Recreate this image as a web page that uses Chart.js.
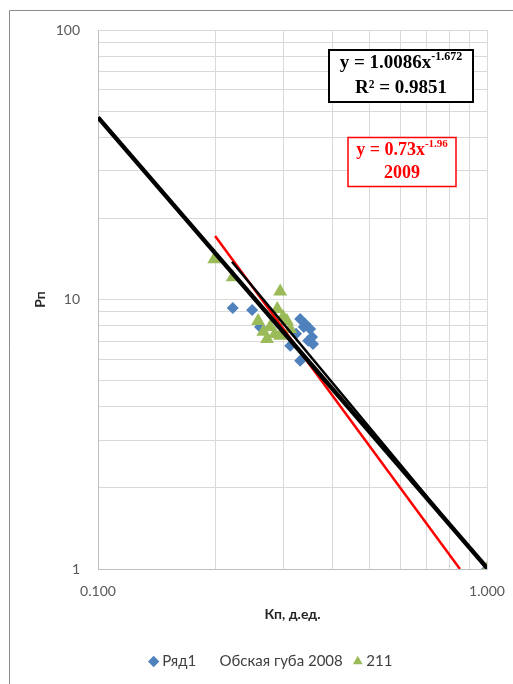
<!DOCTYPE html>
<html lang="ru">
<head>
    <meta charset="UTF-8">
    <title>Рп – Кп</title>
    <script src="https://cdn.jsdelivr.net/npm/chart.js"></script>
    <style>
        * {
            margin: 0;
            padding: 0;
            box-sizing: border-box;
        }

        body {
            background: #ffffff;
        }

        canvas {
            display: block;
        }
    </style>
</head>
<body>
    <canvas id="pnChart" width="513" height="684"></canvas>

    <script>
        // Ряд1 (blue diamonds)
        const seriesKp1 = [0.222, 0.249, 0.261, 0.331, 0.341, 0.351, 0.355, 0.347, 0.357, 0.323, 0.312, 0.331, 0.338, 1.0];
        const seriesPn1 = [9.30, 9.15, 7.91, 8.47, 8.11, 7.78, 7.26, 7.03, 6.84, 7.46, 6.73, 5.93, 7.9, 1.0];

        // 211 (green triangles)
        const seriesKp211 = [0.199, 0.222, 0.294, 0.289, 0.299, 0.306, 0.258, 0.266, 0.277, 0.294, 0.272, 0.285, 0.312, 1.0];
        const seriesPn211 = [14.1, 12.1, 10.7, 9.22, 8.61, 8.33, 8.33, 7.59, 7.91, 7.33, 7.14, 7.45, 7.78, 1.0];

        // trend lines, end points
        const trendKp = [0.1, 1.0];
        const trendPn = [47.4, 1.01];
        const trend2Kp = [0.221, 1.0];
        const trend2Pn = [13.8, 1.0];
        const trend2009Kp = [0.2, 0.852];
        const trend2009Pn = [17.2, 1.0];

        const legendNames = ['Ряд1', 'Обская губа 2008', '211'];

        const xTicks = [0.1, 0.2, 0.3, 0.4, 0.5, 0.6, 0.7, 0.8, 0.9, 1.0];
        const xLabeled = [0.1, 1.0];
        const yTicks = [1, 2, 3, 4, 5, 6, 7, 8, 9, 10, 20, 30, 40, 50, 60, 70, 80, 90, 100];
        const yLabeled = [1, 10, 100];

        const pairs = (xs, ys) => xs.map((x, i) => ({ x: x, y: ys[i] }));

        const frame = {
            id: 'frame',
            afterLayout(chart) {
                // legend in the original sits a bit right of centre
                chart.legend.left += 15;
                chart.legend.right += 15;
            },
            beforeDraw(chart) {
                const ctx = chart.ctx;
                ctx.save();
                ctx.strokeStyle = '#8c8c8c';
                ctx.lineWidth = 1;
                ctx.beginPath();
                ctx.moveTo(9.5, chart.height);
                ctx.lineTo(9.5, 10.5);
                ctx.lineTo(chart.width, 10.5);
                ctx.stroke();
                ctx.restore();
            }
        };

        // equation boxes, anchored in data coordinates
        const boxes = [
            { x: 0.601, y: 67.6, w: 144, h: 52, color: '#000000', border: 2, size: 19,
              lines: [['y = 1.0086x', '-1.672', -13], ['R² = 0.9851', '', 12]] },
            { x: 0.605, y: 32.5, w: 108, h: 49, color: '#ff0000', border: 1.5, size: 18,
              lines: [['y = 0.73x', '-1.96', -12], ['2009', '', 11]] }
        ];

        const equations = {
            id: 'equations',
            afterDraw(chart) {
                const ctx = chart.ctx;
                const sx = chart.scales.x, sy = chart.scales.y;
                boxes.forEach(b => {
                    const cx = Math.round(sx.getPixelForValue(b.x));
                    const cy = Math.round(sy.getPixelForValue(b.y));
                    ctx.save();
                    ctx.fillStyle = '#ffffff';
                    ctx.fillRect(cx - b.w / 2, cy - b.h / 2, b.w, b.h);
                    ctx.strokeStyle = b.color;
                    ctx.lineWidth = b.border;
                    ctx.strokeRect(cx - b.w / 2, cy - b.h / 2, b.w, b.h);
                    ctx.fillStyle = b.color;
                    ctx.textBaseline = 'middle';
                    ctx.textAlign = 'left';
                    b.lines.forEach(([main, sup, dy]) => {
                        const mainFont = 'bold ' + b.size + 'px "Liberation Serif"';
                        const supFont = 'bold ' + Math.round(b.size * 0.62) + 'px "Liberation Serif"';
                        ctx.font = mainFont;
                        const w1 = ctx.measureText(main).width;
                        ctx.font = supFont;
                        const w2 = sup ? ctx.measureText(sup).width : 0;
                        const left = cx - (w1 + w2) / 2;
                        ctx.font = mainFont;
                        ctx.fillText(main, left, cy + dy);
                        if (sup) {
                            ctx.font = supFont;
                            ctx.fillText(sup, left + w1, cy + dy - 6);
                        }
                    });
                    ctx.restore();
                });
            }
        };

        const ctx = document.getElementById('pnChart').getContext('2d');
        new Chart(ctx, {
            type: 'scatter',
            data: {
                datasets: [
                    {
                        label: 'Ряд1',
                        data: pairs(seriesKp1, seriesPn1),
                        pointStyle: 'rectRot',
                        pointRadius: 6,
                        backgroundColor: '#4f81bd',
                        borderColor: '#4f81bd',
                        borderWidth: 0,
                        order: 5
                    },
                    {
                        label: 'Обская губа 2008',
                        data: [],
                        backgroundColor: 'rgba(0,0,0,0)',
                        borderColor: 'rgba(0,0,0,0)',
                        order: 6
                    },
                    {
                        label: '211',
                        data: pairs(seriesKp211, seriesPn211),
                        pointStyle: 'triangle',
                        pointRadius: 8,
                        backgroundColor: '#9bbb59',
                        borderColor: '#9bbb59',
                        borderWidth: 0,
                        order: 4
                    },
                    {
                        label: 'trend 2009',
                        data: pairs(trend2009Kp, trend2009Pn),
                        showLine: true,
                        pointRadius: 0,
                        borderColor: '#ff0000',
                        borderWidth: 2.5,
                        order: 3
                    },
                    {
                        label: 'trend 2',
                        data: pairs(trend2Kp, trend2Pn),
                        showLine: true,
                        pointRadius: 0,
                        borderColor: '#000000',
                        borderWidth: 2.5,
                        order: 2
                    },
                    {
                        label: 'trend',
                        data: pairs(trendKp, trendPn),
                        showLine: true,
                        pointRadius: 0,
                        borderColor: '#000000',
                        borderWidth: 4.5,
                        order: 1
                    }
                ]
            },
            options: {
                responsive: false,
                animation: false,
                layout: {
                    padding: { left: 28, right: 26, top: 30, bottom: 5 }
                },
                plugins: {
                    tooltip: { enabled: false },
                    legend: {
                        position: 'bottom',
                        labels: {
                            usePointStyle: true,
                            boxWidth: 2,
                            boxHeight: 8,
                            padding: 14,
                            color: '#404040',
                            font: { family: 'Lato', size: 15 },
                            filter: item => legendNames.includes(item.text),
                            sort: (a, b) => a.datasetIndex - b.datasetIndex
                        }
                    }
                },
                scales: {
                    x: {
                        type: 'logarithmic',
                        min: 0.1,
                        max: 1,
                        afterBuildTicks: scale => { scale.ticks = xTicks.map(v => ({ value: v })); },
                        afterFit: scale => {
                            scale.height = 71;
                            scale.paddingLeft = 0;
                            scale.paddingRight = 0;
                        },
                        ticks: {
                            autoSkip: false,
                            maxRotation: 0,
                            padding: 14,
                            color: '#595959',
                            font: { family: 'Lato', size: 14 },
                            callback: v => xLabeled.includes(v) ? v.toFixed(3) : ''
                        },
                        grid: { color: '#d9d9d9', drawTicks: false },
                        border: { color: '#bfbfbf' },
                        title: {
                            display: true,
                            text: 'Кп, д.ед.',
                            color: '#262626',
                            padding: { top: 4, bottom: 17 },
                            font: { family: 'Lato', size: 14, weight: 'bold' }
                        }
                    },
                    y: {
                        type: 'logarithmic',
                        min: 1,
                        max: 100,
                        afterBuildTicks: scale => { scale.ticks = yTicks.map(v => ({ value: v })); },
                        afterFit: scale => { scale.width = 70; },
                        ticks: {
                            autoSkip: false,
                            padding: 18,
                            color: '#595959',
                            font: { family: 'Lato', size: 14 },
                            callback: v => yLabeled.includes(v) ? String(v) : ''
                        },
                        grid: { color: '#d9d9d9', drawTicks: false },
                        border: { color: '#bfbfbf' },
                        title: {
                            display: true,
                            text: 'Рп',
                            color: '#262626',
                            font: { family: 'Lato', size: 14, weight: 'bold' }
                        }
                    }
                }
            },
            plugins: [frame, equations]
        });
    </script>
</body>
</html>
